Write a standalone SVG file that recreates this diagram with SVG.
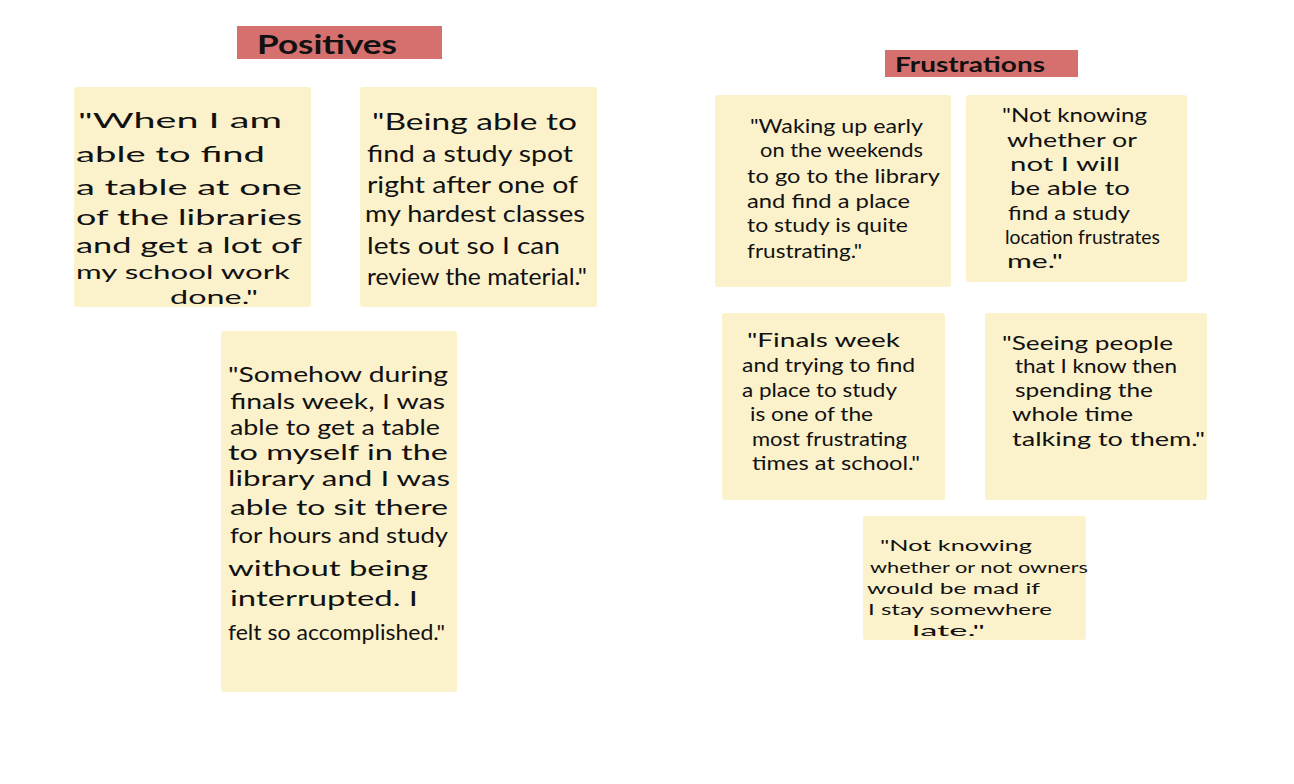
<svg xmlns="http://www.w3.org/2000/svg" width="1294" height="784" viewBox="0 0 1294 784">
  <style>
    .note { fill: #fbf2cc; }
    .banner { fill: #d6706f; }
    .hand { font-family: "Lato", "Liberation Sans", sans-serif; fill: #111; }
    .p1 { font-size: 22px; }
    .p2 { font-size: 24px; }
    .p3 { font-size: 21px; }
    .mid { font-size: 19px; }
    .small { font-size: 16px; }
    .title { font-family: "Lato", "Liberation Sans", sans-serif; fill: #111; font-weight: bold; }
  </style>
  <rect width="1294" height="784" fill="#ffffff"/>

  <!-- Section headings -->
  <g id="positives-header">
    <rect class="banner" x="237" y="26" width="205" height="33"/>
    <text class="title" x="257" y="54" font-size="26" textLength="140" lengthAdjust="spacingAndGlyphs">Positives</text>
  </g>
  <g id="frustrations-header">
    <rect class="banner" x="885" y="50" width="193" height="27"/>
    <text class="title" x="895" y="72" font-size="20" textLength="150" lengthAdjust="spacingAndGlyphs">Frustrations</text>
  </g>

  <!-- Positive notes -->
  <g id="positive-1">
    <rect class="note" x="74" y="87" width="237" height="220" rx="3"/>
    <g class="hand p1">
      <text x="78" y="128" textLength="204" lengthAdjust="spacingAndGlyphs">"When I am</text>
      <text x="76" y="162" textLength="189" lengthAdjust="spacingAndGlyphs">able to find</text>
      <text x="76" y="195" textLength="226" lengthAdjust="spacingAndGlyphs">a table at one</text>
      <text x="76" y="225" textLength="226" lengthAdjust="spacingAndGlyphs">of the libraries</text>
      <text x="76" y="253" textLength="226" lengthAdjust="spacingAndGlyphs">and get a lot of</text>
      <text x="76" y="279" font-size="19" textLength="214" lengthAdjust="spacingAndGlyphs">my school work</text>
      <text x="170" y="304" font-size="19" textLength="88" lengthAdjust="spacingAndGlyphs">done."</text>
    </g>
  </g>
  <g id="positive-2">
    <rect class="note" x="360" y="87" width="237" height="220" rx="3"/>
    <g class="hand p2">
      <text x="372" y="130" textLength="205" lengthAdjust="spacingAndGlyphs">"Being able to</text>
      <text x="367" y="162" textLength="206" lengthAdjust="spacingAndGlyphs">find a study spot</text>
      <text x="367" y="193" textLength="211" lengthAdjust="spacingAndGlyphs">right after one of</text>
      <text x="365" y="222" textLength="220" lengthAdjust="spacingAndGlyphs">my hardest classes</text>
      <text x="367" y="254" textLength="193" lengthAdjust="spacingAndGlyphs">lets out so I can</text>
      <text x="367" y="285" textLength="220" lengthAdjust="spacingAndGlyphs">review the material."</text>
    </g>
  </g>
  <g id="positive-3">
    <rect class="note" x="221" y="331" width="236" height="361" rx="3"/>
    <g class="hand p3">
      <text x="228" y="382" textLength="220" lengthAdjust="spacingAndGlyphs">"Somehow during</text>
      <text x="230" y="409" textLength="215" lengthAdjust="spacingAndGlyphs">finals week, I was</text>
      <text x="230" y="435" textLength="210" lengthAdjust="spacingAndGlyphs">able to get a table</text>
      <text x="228" y="460" textLength="220" lengthAdjust="spacingAndGlyphs">to myself in the</text>
      <text x="228" y="486" textLength="222" lengthAdjust="spacingAndGlyphs">library and I was</text>
      <text x="230" y="515" textLength="218" lengthAdjust="spacingAndGlyphs">able to sit there</text>
      <text x="230" y="543" textLength="218" lengthAdjust="spacingAndGlyphs">for hours and study</text>
      <text x="228" y="576" textLength="200" lengthAdjust="spacingAndGlyphs">without being</text>
      <text x="230" y="606" textLength="188" lengthAdjust="spacingAndGlyphs">interrupted. I</text>
      <text x="228" y="640" textLength="217" lengthAdjust="spacingAndGlyphs">felt so accomplished."</text>
    </g>
  </g>

  <!-- Frustration notes -->
  <g id="frustration-1">
    <rect class="note" x="715" y="95" width="236" height="192" rx="3"/>
    <g class="hand mid">
      <text x="750" y="133" textLength="173" lengthAdjust="spacingAndGlyphs">"Waking up early</text>
      <text x="760" y="157" textLength="163" lengthAdjust="spacingAndGlyphs">on the weekends</text>
      <text x="747" y="183" textLength="193" lengthAdjust="spacingAndGlyphs">to go to the library</text>
      <text x="747" y="208" textLength="163" lengthAdjust="spacingAndGlyphs">and find a place</text>
      <text x="747" y="232" textLength="161" lengthAdjust="spacingAndGlyphs">to study is quite</text>
      <text x="747" y="258" textLength="115" lengthAdjust="spacingAndGlyphs">frustrating."</text>
    </g>
  </g>
  <g id="frustration-2">
    <rect class="note" x="966" y="95" width="221" height="187" rx="3"/>
    <g class="hand mid">
      <text x="1002" y="122" textLength="145" lengthAdjust="spacingAndGlyphs">"Not knowing</text>
      <text x="1007" y="147" textLength="130" lengthAdjust="spacingAndGlyphs">whether or</text>
      <text x="1010" y="171" textLength="110" lengthAdjust="spacingAndGlyphs">not I will</text>
      <text x="1010" y="195" textLength="120" lengthAdjust="spacingAndGlyphs">be able to</text>
      <text x="1008" y="220" textLength="122" lengthAdjust="spacingAndGlyphs">find a study</text>
      <text x="1005" y="244" textLength="155" lengthAdjust="spacingAndGlyphs">location frustrates</text>
      <text x="1007" y="268" textLength="56" lengthAdjust="spacingAndGlyphs">me."</text>
    </g>
  </g>
  <g id="frustration-3">
    <rect class="note" x="722" y="313" width="223" height="187" rx="3"/>
    <g class="hand mid">
      <text x="747" y="347" textLength="153" lengthAdjust="spacingAndGlyphs">"Finals week</text>
      <text x="742" y="372" textLength="173" lengthAdjust="spacingAndGlyphs">and trying to find</text>
      <text x="742" y="397" textLength="155" lengthAdjust="spacingAndGlyphs">a place to study</text>
      <text x="750" y="421" textLength="123" lengthAdjust="spacingAndGlyphs">is one of the</text>
      <text x="752" y="446" textLength="155" lengthAdjust="spacingAndGlyphs">most frustrating</text>
      <text x="752" y="470" textLength="168" lengthAdjust="spacingAndGlyphs">times at school."</text>
    </g>
  </g>
  <g id="frustration-4">
    <rect class="note" x="985" y="313" width="222" height="187" rx="3"/>
    <g class="hand mid">
      <text x="1002" y="350" textLength="171" lengthAdjust="spacingAndGlyphs">"Seeing people</text>
      <text x="1015" y="373" textLength="162" lengthAdjust="spacingAndGlyphs">that I know then</text>
      <text x="1015" y="397" textLength="138" lengthAdjust="spacingAndGlyphs">spending the</text>
      <text x="1012" y="421" textLength="121" lengthAdjust="spacingAndGlyphs">whole time</text>
      <text x="1012" y="446" textLength="193" lengthAdjust="spacingAndGlyphs">talking to them."</text>
    </g>
  </g>
  <g id="frustration-5">
    <rect class="note" x="863" y="516" width="223" height="124" rx="3"/>
    <g class="hand small">
      <text x="880" y="551" textLength="152" lengthAdjust="spacingAndGlyphs">"Not knowing</text>
      <text x="870" y="573" textLength="218" lengthAdjust="spacingAndGlyphs">whether or not owners</text>
      <text x="867" y="594" textLength="173" lengthAdjust="spacingAndGlyphs">would be mad if</text>
      <text x="868" y="615" textLength="184" lengthAdjust="spacingAndGlyphs">I stay somewhere</text>
      <text x="912" y="636" textLength="73" lengthAdjust="spacingAndGlyphs">late."</text>
    </g>
  </g>
</svg>
